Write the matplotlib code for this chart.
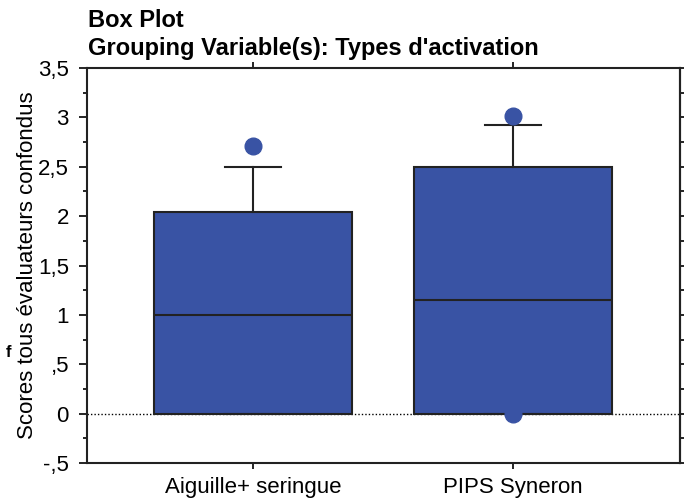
import matplotlib.pyplot as plt
from matplotlib.ticker import FixedLocator, MultipleLocator, NullFormatter

# Box statistics per group (SPSS style box plot)
groups = ["Aiguille+ seringue", "PIPS Syneron"]
q1 = [0.0, 0.0]
medians = [1.0, 1.15]
q3 = [2.04, 2.5]
whisk_lo = [0.0, 0.0]
whisk_hi = [2.5, 2.92]
outliers = [[2.71], [3.01, 0.0]]

ytick_vals = [-0.5, 0, 0.5, 1, 1.5, 2, 2.5, 3, 3.5]
ytick_labels = ["-,5", "0", ",5", "1", "1,5", "2", "2,5", "3", "3,5"]

plt.rcParams['font.family'] = ['Liberation Sans', 'DejaVu Sans']

fig = plt.figure(figsize=(6.85, 5.04), dpi=100)
ax = fig.add_axes([0.127, 0.0813, 0.866, 0.7837])

stats = []
for i in range(len(groups)):
    stats.append(dict(q1=q1[i], med=medians[i], q3=q3[i],
                      whislo=whisk_lo[i], whishi=whisk_hi[i],
                      fliers=outliers[i], label=groups[i]))

box_color = "#3953a4"
edge = "#222222"
ax.bxp(stats, positions=[1, 2], widths=0.76, patch_artist=True,
       showfliers=True,
       boxprops=dict(facecolor=box_color, edgecolor=edge, linewidth=1.5),
       medianprops=dict(color=edge, linewidth=1.5),
       whiskerprops=dict(color=edge, linewidth=1.5),
       capprops=dict(color=edge, linewidth=1.5),
       capwidths=0.215,
       flierprops=dict(marker='o', markerfacecolor=box_color,
                       markeredgecolor=box_color, markersize=12),
       zorder=3)

# dotted reference line at zero
ax.axhline(0, color="black", linestyle=(0, (1, 1.5)), linewidth=1, zorder=2)

ax.set_xlim(0.3615, 2.642)
ax.set_ylim(-0.5, 3.5)
ax.yaxis.set_major_locator(FixedLocator(ytick_vals))
ax.set_yticklabels(ytick_labels)
ax.yaxis.set_minor_locator(MultipleLocator(0.25))
ax.set_xticks([1, 2])
ax.set_xticklabels(groups)

ax.tick_params(axis='y', which='major', direction='out', length=6, width=1.2,
               labelsize=16, left=True, right=False, pad=7)
ax.tick_params(axis='y', which='minor', direction='out', length=3, width=1.2,
               left=True, right=False)
ax.tick_params(axis='x', direction='out', length=4, width=1.2, labelsize=16,
               top=True, bottom=True, pad=6)

# short ticks on the right frame
sec = ax.secondary_yaxis('right')
sec.yaxis.set_major_locator(MultipleLocator(0.25))
sec.yaxis.set_major_formatter(NullFormatter())
sec.tick_params(length=3, width=1.2, direction='out')
sec.spines['right'].set_linewidth(1.5)
sec.spines['right'].set_color(edge)

for sp in ax.spines.values():
    sp.set_linewidth(1.5)
    sp.set_color(edge)

ax.set_ylabel("Scores tous évaluateurs confondus", fontsize=16, labelpad=0)

fig.text(0.128, 0.947, "Box Plot", fontsize=17, fontweight='bold',
         va='baseline')
fig.text(0.128, 0.891, "Grouping Variable(s): Types d'activation", fontsize=17,
         fontweight='bold', va='baseline')
fig.text(0.008, 0.292, "f", fontsize=12, fontweight='bold')

fig.savefig("out.png", dpi=100)
